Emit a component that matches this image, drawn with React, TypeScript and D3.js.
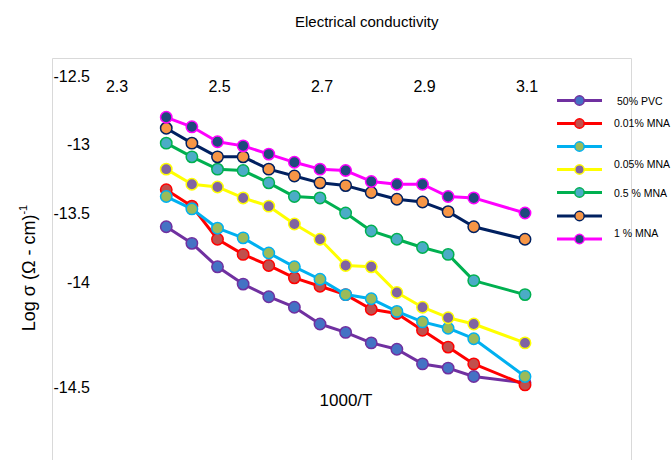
import React from "react";
import * as d3 from "d3";

const xValues = [2.4, 2.45, 2.5, 2.55, 2.6, 2.65, 2.7, 2.75, 2.8, 2.85, 2.9, 2.95, 3.0, 3.1];

const pvc50 = [-13.6, -13.72, -13.89, -14.01, -14.07, -14.12, -14.2, -14.24, -14.29, -14.32, -14.39, -14.41, -14.45, -14.48];
const mna001 = [-13.33, -13.45, -13.69, -13.8, -13.88, -13.97, -14.02, -14.06, -14.13, -14.15, -14.23, -14.31, -14.39, -14.49];
const seriesCyan = [-13.38, -13.47, -13.61, -13.68, -13.79, -13.89, -13.98, -14.06, -14.08, -14.14, -14.19, -14.22, -14.27, -14.45];
const mna005 = [-13.18, -13.29, -13.31, -13.39, -13.45, -13.58, -13.69, -13.88, -13.89, -14.05, -14.12, -14.17, -14.2, -14.29];
const mna05 = [-12.99, -13.09, -13.18, -13.19, -13.28, -13.38, -13.39, -13.5, -13.63, -13.69, -13.75, -13.8, -13.99, -14.06];
const seriesNavy = [-12.88, -12.99, -13.09, -13.09, -13.18, -13.23, -13.28, -13.3, -13.35, -13.4, -13.42, -13.49, -13.6, -13.69];
const mna1 = [-12.8, -12.87, -12.98, -13.01, -13.07, -13.13, -13.18, -13.19, -13.27, -13.29, -13.29, -13.38, -13.39, -13.5];

const xTicks = [2.3, 2.5, 2.7, 2.9, 3.1];
const yTicks = [-12.5, -13, -13.5, -14, -14.5];
const legendLabels = ["50% PVC", "0.01% MNA", "", "0.05% MNA", "0.5 % MNA", "", "1 % MNA"];

const series = [
  { name: "50% PVC", values: pvc50, line: "#7030A0", fill: "#4472C4" },
  { name: "0.01% MNA", values: mna001, line: "#FF0000", fill: "#C0504D" },
  { name: "", values: seriesCyan, line: "#00B0F0", fill: "#9BBB59" },
  { name: "0.05% MNA", values: mna005, line: "#FFFF00", fill: "#8064A2" },
  { name: "0.5 % MNA", values: mna05, line: "#00B050", fill: "#4BACC6" },
  { name: "", values: seriesNavy, line: "#002060", fill: "#F79646" },
  { name: "1 % MNA", values: mna1, line: "#FF00FF", fill: "#1F497D" },
];

const W = 671;
const H = 460;
const FONT = "'Liberation Sans', Arial, sans-serif";

export default function App() {
  const x = d3.scaleLinear().domain([2.3, 3.1]).range([115, 525]);
  const y = d3.scaleLinear().domain(yTicks).range([76.5, 144.5, 213, 282, 387]);
  const line = d3
    .line<[number, number]>()
    .x((d) => x(d[0]))
    .y((d) => y(d[1]));

  const legendY = [100.5, 123.5, 146.5, 169.5, 192.5, 216, 239];
  const legendTextY = [100.5, 122.5, null, 164, 192.5, null, 233];

  return (
    <svg
      width={W}
      height={H}
      style={{ position: "fixed", left: 0, top: 0, background: "#fff" }}
      fontFamily={FONT}
    >
      <rect x={0} y={0} width={W} height={H} fill="#fff" />
      <path d={`M52.5,${H + 2}V58.5H631.5V${H + 2}`} fill="none" stroke="#D9D9D9" strokeWidth={1} />

      <text x={295} y={27} fontSize={15} fill="#000">
        Electrical conductivity
      </text>

      {xTicks.map((t) => (
        <text key={t} x={x(t) + 2} y={86} fontSize={16} textAnchor="middle" dominantBaseline="central" fill="#000">
          {d3.format(".1f")(t)}
        </text>
      ))}

      {yTicks.map((t) => (
        <text key={t} x={90} y={y(t)} fontSize={16} textAnchor="end" dominantBaseline="central" fill="#000">
          {String(t)}
        </text>
      ))}

      <text transform="translate(35,268) rotate(-90)" fontSize={18} textAnchor="middle" fill="#000">
        Log σ (Ω - cm)
        <tspan fontSize={11} dy={-8}>-1</tspan>
      </text>

      <text x={346} y={406} fontSize={17} textAnchor="middle" fill="#000">
        1000/T
      </text>

      {series.map((s, i) => {
        const pts: [number, number][] = xValues.map((xv, j) => [xv, s.values[j]]);
        return (
          <g key={i}>
            <path d={line(pts) || ""} fill="none" stroke={s.line} strokeWidth={3} strokeLinejoin="round" />
            {pts.map((p, j) => (
              <circle key={j} cx={x(p[0])} cy={y(p[1])} r={5.7} fill={s.fill} stroke={s.line} strokeWidth={1.5} />
            ))}
          </g>
        );
      })}

      {series.map((s, i) => (
        <g key={"lg" + i}>
          <line x1={557} x2={602} y1={legendY[i]} y2={legendY[i]} stroke={s.line} strokeWidth={3} />
          <circle cx={579.5} cy={legendY[i]} r={4.7} fill={s.fill} stroke={s.line} strokeWidth={1.5} />
        </g>
      ))}
      {legendLabels.map((l, i) =>
        l ? (
          <text key={"lt" + i} x={i === 0 ? 617 : 614} y={legendTextY[i] as number} fontSize={10.5} dominantBaseline="central" fill="#000">
            {l}
          </text>
        ) : null
      )}
    </svg>
  );
}
